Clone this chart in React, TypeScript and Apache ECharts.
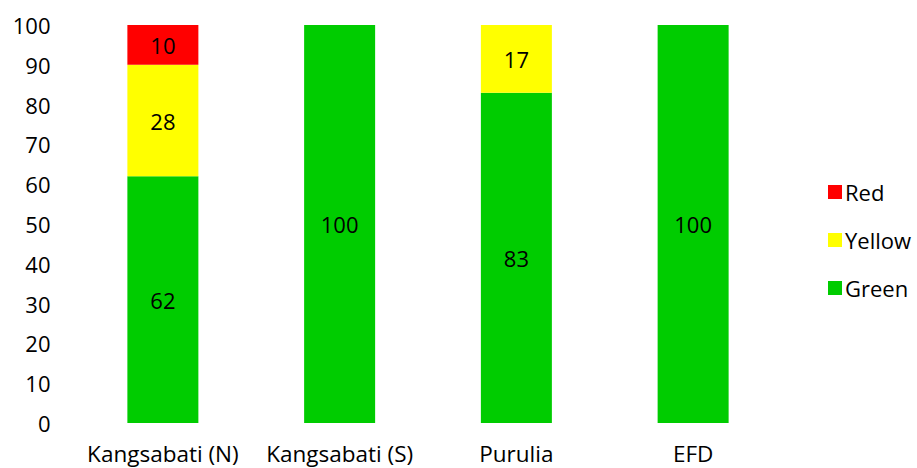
import React, { useEffect, useRef } from "react";
import * as echarts from "echarts";

const categories = ["Kangsabati (N)", "Kangsabati (S)", "Purulia", "EFD"];
const greenValues = [62, 100, 83, 100];
const yellowValues: (number | null)[] = [28, null, 17, null];
const redValues: (number | null)[] = [10, null, null, null];

const FONT = "'Open Sans', sans-serif";

export default function App() {
  const ref = useRef<HTMLDivElement>(null);
  useEffect(() => {
    document.body.style.margin = "0";
    const chart = echarts.init(ref.current!, null, { renderer: "svg" });
    const label = {
      show: true,
      position: "inside",
      color: "#000",
      fontSize: 22,
      fontFamily: FONT,
    };
    chart.setOption({
      animation: false,
      textStyle: { fontFamily: FONT },
      grid: { left: 74.5, right: 135.5, top: 25, bottom: 45 },
      legend: {
        orient: "vertical",
        left: 823,
        top: 175,
        itemWidth: 14,
        itemHeight: 14,
        itemGap: 24,
        icon: "rect",
        data: ["Red", "Yellow", "Green"],
        textStyle: { fontSize: 22, fontFamily: FONT, color: "#000", lineHeight: 24, padding: [0, 0, 0, -2] },
      },
      xAxis: {
        type: "category",
        data: categories,
        axisLine: { show: false },
        axisTick: { show: false },
        axisLabel: { color: "#000", fontSize: 22.5, fontFamily: FONT, margin: 19, interval: 0 },
      },
      yAxis: {
        type: "value",
        min: 0,
        max: 100,
        interval: 10,
        axisLine: { show: false },
        axisTick: { show: false },
        splitLine: { show: false },
        axisLabel: { color: "#000", fontSize: 22, fontFamily: FONT, margin: 24 },
      },
      series: [
        { name: "Green", type: "bar", stack: "s", data: greenValues, barWidth: 71, itemStyle: { color: "#00CC00" }, label },
        { name: "Yellow", type: "bar", stack: "s", data: yellowValues, barWidth: 71, itemStyle: { color: "#FFFF00" }, label },
        { name: "Red", type: "bar", stack: "s", data: redValues, barWidth: 71, itemStyle: { color: "#FF0000" }, label },
      ],
    });
    return () => chart.dispose();
  }, []);
  return <div ref={ref} style={{ width: 917, height: 468 }} />;
}
